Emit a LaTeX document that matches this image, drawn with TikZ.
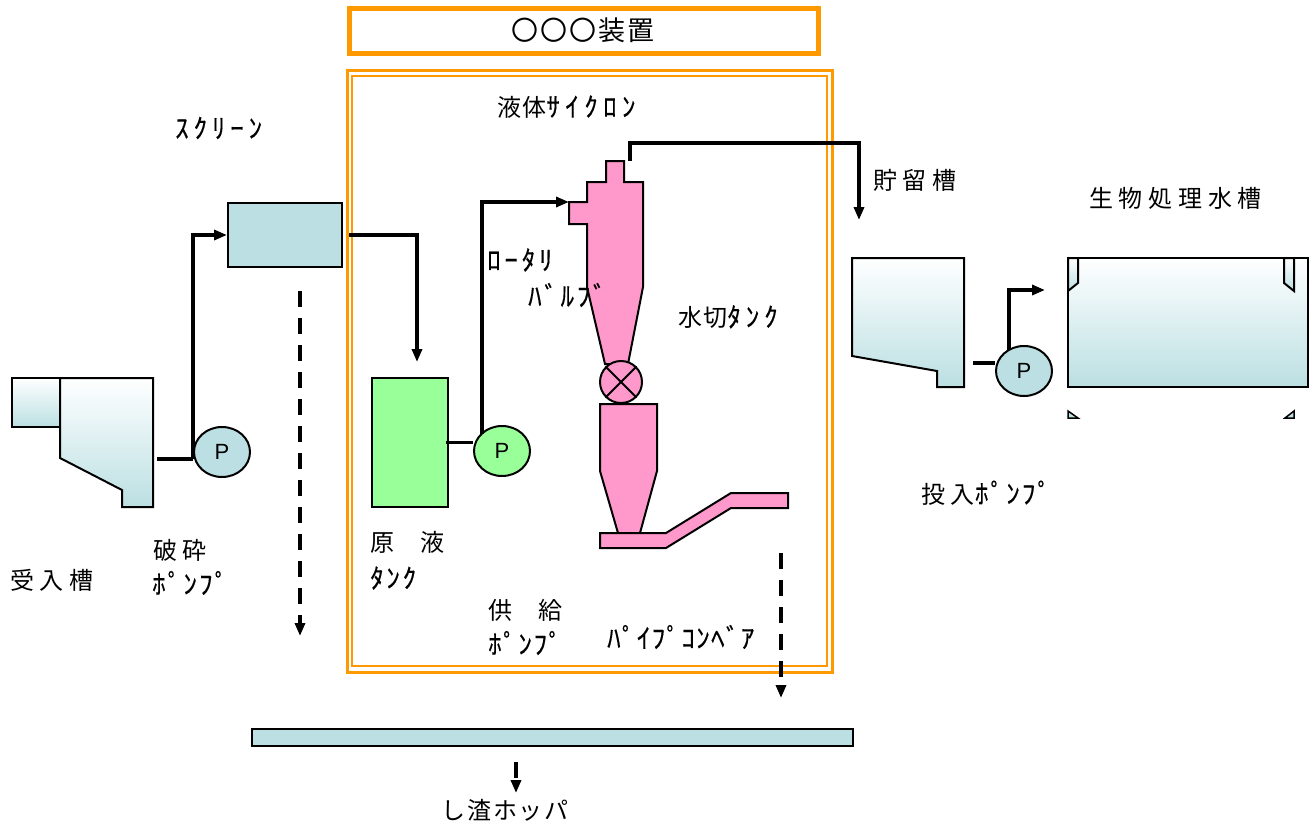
\documentclass[tikz,border=0pt]{standalone}
\usepackage{fontspec}
\usetikzlibrary{shapes.geometric,arrows.meta}
\newfontfamily\jp{Noto Sans CJK JP}[LetterSpace=24]
\newfontfamily\jpk{Noto Sans CJK JP}[LetterSpace=5]
\newfontfamily\jpt{Noto Sans CJK JP}[LetterSpace=8]
\newfontfamily\hk{Noto Sans CJK JP}[FakeBold=0.3]
\newfontfamily\pf{Liberation Sans}
\newcommand{\hkf}[2][10]{{\hk\fontsize{27}{27}\selectfont\addfontfeature{LetterSpace=#1}#2}}
\definecolor{tb}{HTML}{BBDFE2}
\definecolor{og}{HTML}{FF9900}
\definecolor{gr}{HTML}{99FF99}
\definecolor{pk}{HTML}{FF99CC}
\tikzset{
  pipe/.style={line width=3.5pt, black},
  pipea/.style={pipe, -{Triangle[length=13pt,width=10pt]}},
  dsh/.style={line width=3.5pt, black, dash pattern=on 16pt off 11pt},
  dsha/.style={dsh, -{Triangle[length=13pt,width=10pt]}},
  outl/.style={draw=black, line width=2pt, line join=miter},
  tank/.style={outl, top color=white, bottom color=tb},
  pump/.style={ellipse, draw=black, line width=2pt, minimum width=56pt, minimum height=50pt, inner sep=0pt, font=\pf\fontsize{22}{22}\selectfont},
  lab/.style={anchor=west, inner sep=0pt, font=\jp\fontsize{24}{26}\selectfont},
  labk/.style={anchor=west, inner sep=0pt, font=\jpk\fontsize{24}{26}\selectfont},
}
\begin{document}
\begin{tikzpicture}[x=1pt,y=-1pt]
\fill[white] (0,0) rectangle (1315,827);
\useasboundingbox (0,0) rectangle (1315,827);

% title box
\draw[og, line width=5pt] (349,8) rectangle (818,53);
\node[inner sep=0pt, font=\jpt\fontsize{27}{27}\selectfont] (title) at (583,30) {〇〇〇装置};

% double frame
\draw[og, line width=3pt] (347,70) rectangle (832,672);
\draw[og, line width=2pt] (352,76) rectangle (827,666);

% receiving tank
\draw[tank] (12,378) rectangle (60,427);
\draw[tank] (60,378) -- (153,378) -- (153,507) -- (122,507) -- (122,490) -- (60,458) -- cycle;
\coordinate (t1out) at (157,459);

% crushing pump
\node[pump, fill=tb] (p1) at (222,452) {P};
\coordinate (c1) at (193,459);
\draw[pipe] (t1out) -- (p1.west |- t1out);

% screen
\node[outl, fill=tb, minimum width=114pt, minimum height=64pt, inner sep=0pt] (scr) at (285,235) {};
\draw[pipea] (c1) |- (scr.west);
\coordinate (so) at (349,235);
\coordinate (a2) at (417,362);
\draw[pipea] (so) -| (a2);
\coordinate (d1s) at (300,291);
\coordinate (d1e) at (300,636);
\draw[dsha] (d1s) -- (d1e);

% raw liquid tank
\node[outl, fill=gr, minimum width=76pt, minimum height=129pt, inner sep=0pt] (gt) at (410,442.5) {};
\node[pump, fill=gr] (p2) at (502,451) {P};
\draw[pipe] ([xshift=-3pt]gt.east) -- (gt.east -| p2.west);
\coordinate (c2) at (482,434);
\coordinate (cin) at (569,202);
\draw[pipea] (c2) |- (cin);

% cyclone
\draw[outl, fill=pk] (606,161) -- (624,161) -- (624,182) -- (643,182) -- (643,287) -- (628,364) -- (605,364) -- (587,287) -- (587,224) -- (569,224) -- (569,202) -- (587,202) -- (587,182) -- (606,182) -- cycle;
% rotary valve
\node[circle, draw=black, line width=2pt, fill=pk, minimum size=42pt, inner sep=0pt] (rv) at (621,382) {};
\draw[line width=2pt] (rv.north west) -- (rv.south east);
\draw[line width=2pt] (rv.north east) -- (rv.south west);
% dewatering tank
\draw[outl, fill=pk] (600,404) -- (657,404) -- (657,471) -- (640,533) -- (618,533) -- (600,471) -- cycle;
% pipe conveyor
\draw[outl, fill=pk] (600,533) -- (666,533) -- (731,493) -- (788,493) -- (788,508) -- (731,508) -- (666,548) -- (600,548) -- cycle;
\coordinate (d2s) at (781,553);
\coordinate (d2e) at (781,698);
\draw[dsha] (d2s) -- (d2e);

% overflow pipe
\coordinate (cout) at (630,161);
\coordinate (a3) at (859,220);
\draw[pipea] (cout) -- (630,143) -| (a3);

% hopper
\node[outl, fill=tb, minimum width=601pt, minimum height=17pt, inner sep=0pt] (hop) at (552.5,737.5) {};
\coordinate (d3s) at (516,762);
\coordinate (d3e) at (516,793);
\draw[dsha] (d3s) -- (d3e);

% storage tank
\draw[tank] (852,258) -- (964,258) -- (964,387) -- (937,387) -- (937,371) -- (852,356) -- cycle;
\node[pump, fill=tb] (p3) at (1024,371) {P};
\coordinate (t3out) at (973,363);
\draw[pipe] (t3out) -- (t3out -| p3.west);
\coordinate (c3) at (1009,350);
\coordinate (a4) at (1045,290);
\draw[pipea] (c3) |- (a4);

% bio tank
\draw[tank] (1068,258) rectangle (1308,387);
\draw[tank] (1068,258) -- (1078,258) -- (1078,283) -- (1068,291) -- cycle;
\draw[tank] (1284,258) -- (1294,258) -- (1294,291) -- (1284,283) -- cycle;
\draw[outl, line width=1.5pt, fill=tb] (1068,411) -- (1068,418) -- (1078,418) -- cycle;
\draw[outl, line width=1.5pt, fill=tb] (1294,411) -- (1294,418) -- (1285,418) -- cycle;

% labels
\node[lab] (l1) at (10,580) {受入槽};
\node[lab] (l2) at (153,550) {破砕};
\node[lab] (l3) at (152,583) {\hkf[8]{ﾎﾟﾝﾌﾟ}};
\node[lab] (l4) at (175,128) {\hkf[18]{ｽｸﾘｰﾝ}};
\node[labk] (l5) at (497,107) {液体\hkf[20]{ｻｲｸﾛﾝ}};
\node[lab] (l6) at (487,260) {\hkf[14]{ﾛｰﾀﾘ}};
\node[lab] (l7) at (528,295) {\hkf[10]{ﾊﾞﾙﾌﾞ}};
\node[labk] (l8) at (678,317) {水切\hkf[18]{ﾀﾝｸ}};
\node[labk] (l9) at (370,542) {原　液};
\node[lab] (l10) at (370,578) {\hkf[10]{ﾀﾝｸ}};
\node[labk] (l11) at (488,610) {供　給};
\node[lab] (l12) at (488,643) {\hkf[6]{ﾎﾟﾝﾌﾟ}};
\node[lab] (l13) at (607,637) {\hkf[5]{ﾊﾟｲﾌﾟｺﾝﾍﾞｱ}};
\node[labk, font=\jpt\fontsize{24}{26}\selectfont] (l14) at (441,810) {し渣ホッパ};
\node[lab] (l15) at (873,180) {貯留槽};
\node[lab] (l16) at (1089,198) {生物処理水槽};
\node[lab] (l17) at (921,493) {投入\hkf[8]{ﾎﾟﾝﾌﾟ}};
\end{tikzpicture}
\end{document}
